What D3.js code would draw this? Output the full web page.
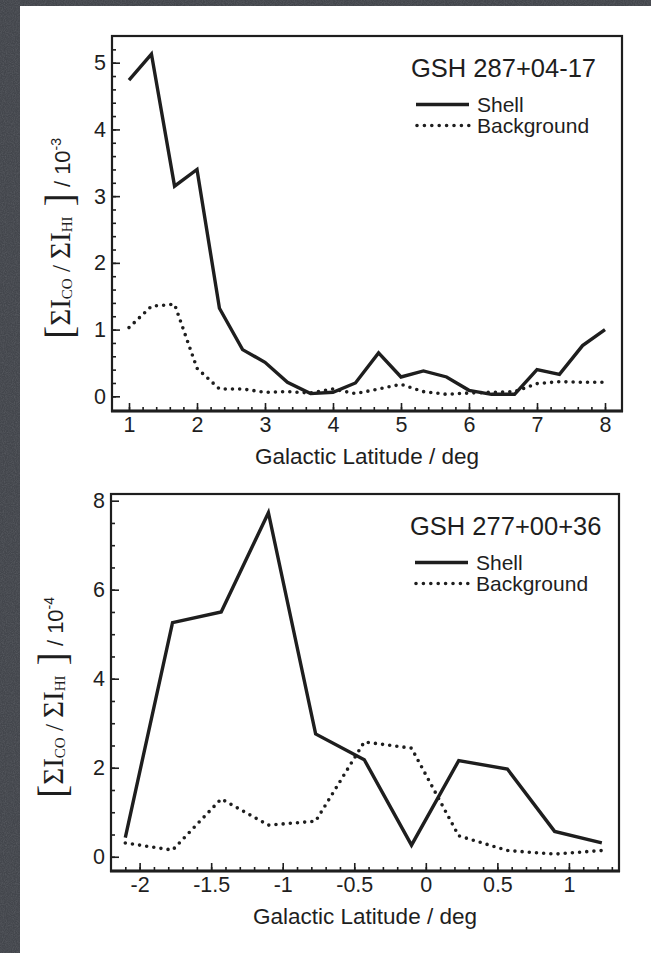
<!DOCTYPE html>
<html>
<head>
<meta charset="utf-8">
<script src="https://cdn.jsdelivr.net/npm/d3@7"></script>
<style>
  html, body { margin: 0; padding: 0; background: #45484e; }
  svg { display: block; }
</style>
</head>
<body>
<script>
// ---- Data: CO/HI ratio profiles across two Galactic supershells ----
const latShell287 = [1, 1.33, 1.67, 2, 2.33, 2.67, 3, 3.33, 3.67, 4, 4.33, 4.67, 5, 5.33, 5.67, 6, 6.33, 6.67, 7, 7.33, 7.67, 8];
const shell287 = [4.74, 5.13, 3.15, 3.40, 1.32, 0.70, 0.51, 0.21, 0.04, 0.06, 0.20, 0.65, 0.29, 0.38, 0.29, 0.09, 0.03, 0.03, 0.40, 0.33, 0.76, 1.00];
const background287 = [1.03, 1.35, 1.38, 0.42, 0.11, 0.11, 0.06, 0.07, 0.05, 0.11, 0.04, 0.11, 0.18, 0.07, 0.03, 0.05, 0.06, 0.07, 0.19, 0.22, 0.21, 0.21];

const latShell277 = [-2.1, -1.77, -1.43, -1.1, -0.77, -0.43, -0.1, 0.23, 0.57, 0.9, 1.23];
const shell277 = [0.43, 5.26, 5.50, 7.73, 2.76, 2.18, 0.26, 2.16, 1.97, 0.57, 0.31];
const background277 = [0.31, 0.15, 1.30, 0.71, 0.80, 2.58, 2.44, 0.47, 0.14, 0.06, 0.14];

const xTicks287 = [1, 2, 3, 4, 5, 6, 7, 8];
const yTicks287 = [0, 1, 2, 3, 4, 5];
const xTicks277 = [-2, -1.5, -1, -0.5, 0, 0.5, 1];
const yTicks277 = [0, 2, 4, 6, 8];

const seriesNames = ["Shell", "Background"];
const titles = ["GSH 287+04-17", "GSH 277+00+36"];
const exponents = ["-3", "-4"];
const xLabel = "Galactic Latitude / deg";

// ---- Page setup ----
const W = 651, H = 953;
const ink = "#1e1e1e";
const sans = "'Liberation Sans', Arial, Helvetica, sans-serif";
const serif = "'Liberation Serif', 'Times New Roman', serif";

const svg = d3.select("body").append("svg").attr("width", W).attr("height", H);

// slate backdrop with a fine grain
const defs = svg.append("defs");
const grain = defs.append("filter").attr("id", "grain").attr("x", 0).attr("y", 0).attr("width", "100%").attr("height", "100%");
grain.append("feTurbulence").attr("type", "fractalNoise").attr("baseFrequency", 0.9).attr("numOctaves", 2).attr("seed", 4).attr("result", "n");
grain.append("feColorMatrix").attr("in", "n").attr("type", "matrix")
  .attr("values", "0 0 0 0 0.75  0 0 0 0 0.76  0 0 0 0 0.8  0.6 0 0 0 -0.2");
svg.append("rect").attr("width", W).attr("height", H).attr("fill", "#43464c");
svg.append("rect").attr("width", W).attr("height", H).attr("filter", "url(#grain)").attr("opacity", 0.35);

// white sheet
svg.append("rect").attr("x", 20).attr("y", 6).attr("width", W - 20).attr("height", H - 6).attr("fill", "#ffffff");

// ---- Panels ----
const panels = [
  {
    box: { left: 112, right: 622, top: 36, bottom: 411 },
    xDomain: [0.75, 8.25], yDomain: [-0.22, 5.4],
    lat: latShell287, shell: shell287, bg: background287,
    xTicks: xTicks287, yTicks: yTicks287, xMinor: 0.2, yMinor: 0.2,
    title: titles[0], exp: exponents[0], labelX: 70
  },
  {
    box: { left: 111, right: 619, top: 494, bottom: 871 },
    xDomain: [-2.2, 1.35], yDomain: [-0.32, 8.15],
    lat: latShell277, shell: shell277, bg: background277,
    xTicks: xTicks277, yTicks: yTicks277, xMinor: 0.1, yMinor: 0.5,
    title: titles[1], exp: exponents[1], labelX: 63
  }
];

function minorValues(domain, step) {
  const out = [];
  const start = Math.ceil(domain[0] / step - 1e-9);
  const end = Math.floor(domain[1] / step + 1e-9);
  for (let i = start; i <= end; i++) {
    const v = +(i * step).toFixed(6);
    if (v > domain[0] + step * 0.3 && v < domain[1] - step * 0.3) out.push(v);
  }
  return out;
}

function fmt(v) { return String(v); }

panels.forEach(p => {
  const b = p.box;
  const x = d3.scaleLinear().domain(p.xDomain).range([b.left, b.right]);
  const y = d3.scaleLinear().domain(p.yDomain).range([b.bottom, b.top]);
  const g = svg.append("g");

  // minor ticks (inward)
  g.append("g").attr("transform", `translate(0,${b.bottom})`)
    .call(d3.axisBottom(x).tickValues(minorValues(p.xDomain, p.xMinor)).tickSizeInner(-4).tickSizeOuter(0).tickFormat(""))
    .call(s => s.select(".domain").remove());
  g.append("g").attr("transform", `translate(${b.left},0)`)
    .call(d3.axisLeft(y).tickValues(minorValues(p.yDomain, p.yMinor)).tickSizeInner(-4).tickSizeOuter(0).tickFormat(""))
    .call(s => s.select(".domain").remove());

  // major ticks with labels
  const xa = g.append("g").attr("transform", `translate(0,${b.bottom})`)
    .call(d3.axisBottom(x).tickValues(p.xTicks).tickSizeInner(-8).tickSizeOuter(0).tickPadding(6).tickFormat(fmt));
  const ya = g.append("g").attr("transform", `translate(${b.left},0)`)
    .call(d3.axisLeft(y).tickValues(p.yTicks).tickSizeInner(-8).tickSizeOuter(0).tickPadding(6).tickFormat(fmt));
  [xa, ya].forEach(a => {
    a.select(".domain").remove();
    a.selectAll("text").attr("font-family", sans).attr("font-size", 21.5).attr("fill", ink);
  });
  g.selectAll(".tick line").attr("stroke", ink).attr("stroke-width", 1.6);

  // frame
  g.append("rect").attr("x", b.left).attr("y", b.top)
    .attr("width", b.right - b.left).attr("height", b.bottom - b.top)
    .attr("fill", "none").attr("stroke", ink).attr("stroke-width", 2.2);
  g.append("line").attr("x1", b.left - 1).attr("x2", b.right + 1).attr("y1", b.bottom).attr("y2", b.bottom)
    .attr("stroke", ink).attr("stroke-width", 3);

  // series
  const line = d3.line().x(d => x(d[0])).y(d => y(d[1]));
  const shellPts = p.lat.map((v, i) => [v, p.shell[i]]);
  const bgPts = p.lat.map((v, i) => [v, p.bg[i]]);
  g.append("path").attr("d", line(bgPts)).attr("fill", "none").attr("stroke", ink)
    .attr("stroke-width", 3.6).attr("stroke-linecap", "round").attr("stroke-dasharray", "0 7.2");
  g.append("path").attr("d", line(shellPts)).attr("fill", "none").attr("stroke", ink)
    .attr("stroke-width", 3.4).attr("stroke-linejoin", "miter");

  // title
  g.append("text").attr("x", b.left + 299).attr("y", b.top + 40.5)
    .attr("font-family", sans).attr("font-size", 25.5).attr("fill", ink).text(p.title);

  // legend
  const lx0 = b.left + 304, lx1 = b.left + 357, tx = b.left + 365;
  const ly = [b.top + 68.5, b.top + 89.5];
  g.append("line").attr("x1", lx0).attr("x2", lx1).attr("y1", ly[0]).attr("y2", ly[0])
    .attr("stroke", ink).attr("stroke-width", 3.4);
  g.append("line").attr("x1", lx0 + 1).attr("x2", lx1).attr("y1", ly[1]).attr("y2", ly[1])
    .attr("stroke", ink).attr("stroke-width", 3.6).attr("stroke-linecap", "round").attr("stroke-dasharray", "0 7.4");
  seriesNames.forEach((n, i) => {
    g.append("text").attr("x", tx).attr("y", ly[i] + 7.5)
      .attr("font-family", sans).attr("font-size", 21).attr("fill", ink).text(n);
  });

  // x axis label
  g.append("text").attr("x", (b.left + b.right) / 2).attr("y", b.bottom + 52.5)
    .attr("text-anchor", "middle").attr("font-family", sans).attr("font-size", 22.5).attr("fill", ink).text(xLabel);

  // y axis label: [ΣI_CO / ΣI_HI] / 10^exp
  const yc = (b.top + b.bottom) / 2 + 15;
  const t = g.append("text").attr("transform", `translate(${p.labelX},${yc}) rotate(-90)`)
    .attr("text-anchor", "middle").attr("fill", ink);
  t.append("tspan").attr("font-family", serif).attr("font-size", 40).attr("dy", 3).text("[");
  t.append("tspan").attr("font-family", serif).attr("font-size", 29).attr("dy", -3).text("ΣI");
  t.append("tspan").attr("font-family", serif).attr("font-size", 15).attr("dy", 1.5).text("CO");
  t.append("tspan").attr("font-family", serif).attr("font-size", 25).attr("dy", -1.5).text(" / ");
  t.append("tspan").attr("font-family", serif).attr("font-size", 29).text("ΣI");
  t.append("tspan").attr("font-family", serif).attr("font-size", 15).attr("dy", 1.5).text("HI");
  t.append("tspan").attr("font-family", serif).attr("font-size", 40).attr("dy", 1.5).text(" ]");
  t.append("tspan").attr("font-family", sans).attr("font-size", 22).attr("dy", -3).text(" / 10");
  t.append("tspan").attr("font-family", sans).attr("font-size", 14).attr("dy", -9).text(p.exp);
});
</script>
</body>
</html>
